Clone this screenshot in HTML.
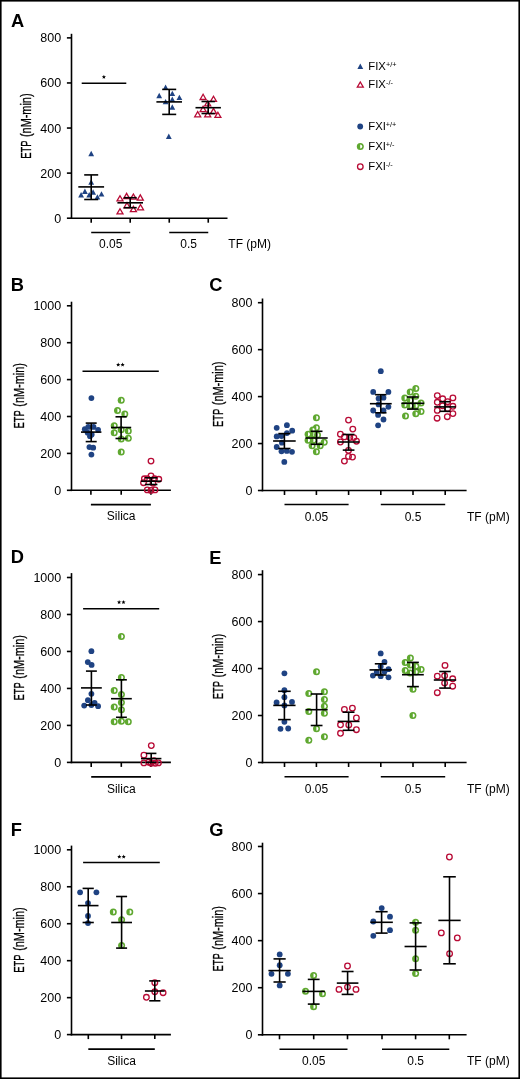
<!DOCTYPE html>
<html><head><meta charset="utf-8"><title>ETP figure</title>
<style>
html,body{margin:0;padding:0;background:#fff;}
body{width:520px;height:1079px;overflow:hidden;}
svg{display:block;font-family:"Liberation Sans", sans-serif;will-change:transform;}
</style></head>
<body>
<svg width="520" height="1079" viewBox="0 0 520 1079">
<rect x="0.8" y="0.8" width="518.4" height="1077.4" fill="#fff" stroke="#000" stroke-width="1.6"/>
<text x="11" y="26.7" font-size="18.3" text-anchor="start" font-weight="bold">A</text>
<line x1="71.5" y1="33.8" x2="71.5" y2="219" stroke="#000" stroke-width="1.6"/>
<line x1="66.9" y1="218.2" x2="71.5" y2="218.2" stroke="#000" stroke-width="1.6"/>
<text x="61.2" y="222.7" font-size="12.5" text-anchor="end" font-weight="normal">0</text>
<line x1="66.9" y1="173.12" x2="71.5" y2="173.12" stroke="#000" stroke-width="1.6"/>
<text x="61.2" y="177.62" font-size="12.5" text-anchor="end" font-weight="normal">200</text>
<line x1="66.9" y1="128.04" x2="71.5" y2="128.04" stroke="#000" stroke-width="1.6"/>
<text x="61.2" y="132.54" font-size="12.5" text-anchor="end" font-weight="normal">400</text>
<line x1="66.9" y1="82.96" x2="71.5" y2="82.96" stroke="#000" stroke-width="1.6"/>
<text x="61.2" y="87.46" font-size="12.5" text-anchor="end" font-weight="normal">600</text>
<line x1="66.9" y1="37.88" x2="71.5" y2="37.88" stroke="#000" stroke-width="1.6"/>
<text x="61.2" y="42.38" font-size="12.5" text-anchor="end" font-weight="normal">800</text>
<text x="0" y="0" font-size="15.0" textLength="18.27" lengthAdjust="spacingAndGlyphs" stroke="#000" stroke-width="0.3" transform="translate(31,158.87) rotate(-90)">ETP</text>
<text x="0" y="0" font-size="15.0" textLength="43.55" lengthAdjust="spacingAndGlyphs" stroke="#000" stroke-width="0.3" transform="translate(31,137.03) rotate(-90)">(nM-min)</text>
<line x1="70.7" y1="218.2" x2="227.5" y2="218.2" stroke="#000" stroke-width="1.6"/>
<line x1="91.2" y1="218.2" x2="91.2" y2="222.7" stroke="#000" stroke-width="1.6"/>
<line x1="130.2" y1="218.2" x2="130.2" y2="222.7" stroke="#000" stroke-width="1.6"/>
<line x1="169.25" y1="218.2" x2="169.25" y2="222.7" stroke="#000" stroke-width="1.6"/>
<line x1="208.25" y1="218.2" x2="208.25" y2="222.7" stroke="#000" stroke-width="1.6"/>
<line x1="91.2" y1="232.5" x2="130.2" y2="232.5" stroke="#000" stroke-width="1.6"/>
<line x1="169.25" y1="232.5" x2="208.25" y2="232.5" stroke="#000" stroke-width="1.6"/>
<text x="110.7" y="247.7" font-size="12" text-anchor="middle" font-weight="normal">0.05</text>
<text x="188.7" y="247.7" font-size="12" text-anchor="middle" font-weight="normal">0.5</text>
<text x="228.3" y="248" font-size="12" text-anchor="start" font-weight="normal">TF (pM)</text>
<line x1="81.7" y1="83.3" x2="126.3" y2="83.3" stroke="#000" stroke-width="1.6"/>
<polygon points="103.9,74.8 104.48,76.2 105.99,76.32 104.84,77.31 105.19,78.78 103.9,77.99 102.61,78.78 102.96,77.31 101.81,76.32 103.32,76.2" fill="#000"/>
<path d="M91.2 150.8L94.1 156.2L88.3 156.2Z" fill="#1f4383"/>
<path d="M91.2 179.3L94.1 184.7L88.3 184.7Z" fill="#1f4383"/>
<path d="M84.9 188.5L87.8 193.9L82 193.9Z" fill="#1f4383"/>
<path d="M81.1 192L84 197.4L78.2 197.4Z" fill="#1f4383"/>
<path d="M89.2 192L92.1 197.4L86.3 197.4Z" fill="#1f4383"/>
<path d="M93.1 189.3L96 194.7L90.2 194.7Z" fill="#1f4383"/>
<path d="M97.4 194.2L100.3 199.6L94.5 199.6Z" fill="#1f4383"/>
<path d="M101.5 191.2L104.4 196.6L98.6 196.6Z" fill="#1f4383"/>
<line x1="91.2" y1="174.9" x2="91.2" y2="199.5" stroke="#000" stroke-width="1.6"/>
<line x1="84.2" y1="174.9" x2="98.2" y2="174.9" stroke="#000" stroke-width="1.6"/>
<line x1="84.2" y1="199.5" x2="98.2" y2="199.5" stroke="#000" stroke-width="1.6"/>
<line x1="78.3" y1="186.9" x2="104.1" y2="186.9" stroke="#000" stroke-width="1.6"/>
<path d="M120 195.7L123 200.9L117 200.9Z" fill="none" stroke="#b80a35" stroke-width="1.3" stroke-linejoin="miter"/>
<path d="M126.6 193.4L129.6 198.6L123.6 198.6Z" fill="none" stroke="#b80a35" stroke-width="1.3" stroke-linejoin="miter"/>
<path d="M133.4 194L136.4 199.2L130.4 199.2Z" fill="none" stroke="#b80a35" stroke-width="1.3" stroke-linejoin="miter"/>
<path d="M140.3 194.9L143.3 200.1L137.3 200.1Z" fill="none" stroke="#b80a35" stroke-width="1.3" stroke-linejoin="miter"/>
<path d="M127 202.6L130 207.8L124 207.8Z" fill="none" stroke="#b80a35" stroke-width="1.3" stroke-linejoin="miter"/>
<path d="M133.4 206.4L136.4 211.6L130.4 211.6Z" fill="none" stroke="#b80a35" stroke-width="1.3" stroke-linejoin="miter"/>
<path d="M140.5 204.6L143.5 209.8L137.5 209.8Z" fill="none" stroke="#b80a35" stroke-width="1.3" stroke-linejoin="miter"/>
<path d="M120 208.7L123 213.9L117 213.9Z" fill="none" stroke="#b80a35" stroke-width="1.3" stroke-linejoin="miter"/>
<line x1="130.2" y1="197.7" x2="130.2" y2="207.7" stroke="#000" stroke-width="1.6"/>
<line x1="123.7" y1="197.7" x2="136.7" y2="197.7" stroke="#000" stroke-width="1.6"/>
<line x1="123.7" y1="207.7" x2="136.7" y2="207.7" stroke="#000" stroke-width="1.6"/>
<line x1="117.4" y1="202.8" x2="143" y2="202.8" stroke="#000" stroke-width="1.6"/>
<path d="M165.6 84.5L168.5 89.9L162.7 89.9Z" fill="#1f4383"/>
<path d="M159.2 92.8L162.1 98.2L156.3 98.2Z" fill="#1f4383"/>
<path d="M172.3 90.7L175.2 96.1L169.4 96.1Z" fill="#1f4383"/>
<path d="M179.4 94.7L182.3 100.1L176.5 100.1Z" fill="#1f4383"/>
<path d="M165.6 98.9L168.5 104.3L162.7 104.3Z" fill="#1f4383"/>
<path d="M172.3 96.6L175.2 102L169.4 102Z" fill="#1f4383"/>
<path d="M172.3 104.3L175.2 109.7L169.4 109.7Z" fill="#1f4383"/>
<path d="M168.8 133.5L171.7 138.9L165.9 138.9Z" fill="#1f4383"/>
<line x1="169.2" y1="89.4" x2="169.2" y2="114.4" stroke="#000" stroke-width="1.6"/>
<line x1="162.2" y1="89.4" x2="176.2" y2="89.4" stroke="#000" stroke-width="1.6"/>
<line x1="162.2" y1="114.4" x2="176.2" y2="114.4" stroke="#000" stroke-width="1.6"/>
<line x1="156.4" y1="101.9" x2="182" y2="101.9" stroke="#000" stroke-width="1.6"/>
<path d="M203.1 94.3L206.1 99.5L200.1 99.5Z" fill="none" stroke="#b80a35" stroke-width="1.3" stroke-linejoin="miter"/>
<path d="M213.5 96.2L216.5 101.4L210.5 101.4Z" fill="none" stroke="#b80a35" stroke-width="1.3" stroke-linejoin="miter"/>
<path d="M207.7 100.7L210.7 105.9L204.7 105.9Z" fill="none" stroke="#b80a35" stroke-width="1.3" stroke-linejoin="miter"/>
<path d="M203.1 106.4L206.1 111.6L200.1 111.6Z" fill="none" stroke="#b80a35" stroke-width="1.3" stroke-linejoin="miter"/>
<path d="M213.5 108.4L216.5 113.6L210.5 113.6Z" fill="none" stroke="#b80a35" stroke-width="1.3" stroke-linejoin="miter"/>
<path d="M197.7 111.6L200.7 116.8L194.7 116.8Z" fill="none" stroke="#b80a35" stroke-width="1.3" stroke-linejoin="miter"/>
<path d="M207.7 111.6L210.7 116.8L204.7 116.8Z" fill="none" stroke="#b80a35" stroke-width="1.3" stroke-linejoin="miter"/>
<path d="M217.9 112.2L220.9 117.4L214.9 117.4Z" fill="none" stroke="#b80a35" stroke-width="1.3" stroke-linejoin="miter"/>
<line x1="208.2" y1="101.5" x2="208.2" y2="113.5" stroke="#000" stroke-width="1.6"/>
<line x1="201.5" y1="101.5" x2="214.9" y2="101.5" stroke="#000" stroke-width="1.6"/>
<line x1="201.5" y1="113.5" x2="214.9" y2="113.5" stroke="#000" stroke-width="1.6"/>
<line x1="195.5" y1="107.7" x2="220.9" y2="107.7" stroke="#000" stroke-width="1.6"/>
<path d="M360.3 63.5L363.2 68.9L357.4 68.9Z" fill="#1f4383"/>
<text x="368.3" y="69.6" font-size="11.3" text-anchor="start" font-weight="normal">FIX</text>
<text x="386" y="66.6" font-size="7.3" text-anchor="start" font-weight="normal">+/+</text>
<path d="M360.3 82L363.3 87.2L357.3 87.2Z" fill="none" stroke="#b80a35" stroke-width="1.3" stroke-linejoin="miter"/>
<text x="368.3" y="88.2" font-size="11.3" text-anchor="start" font-weight="normal">FIX</text>
<text x="386" y="85.2" font-size="7.3" text-anchor="start" font-weight="normal">-/-</text>
<circle cx="360.2" cy="126.5" r="2.9" fill="#1f4383"/>
<text x="368.3" y="129.9" font-size="11.3" text-anchor="start" font-weight="normal">FXI</text>
<text x="385.8" y="126.9" font-size="7.3" text-anchor="start" font-weight="normal">+/+</text>
<circle cx="360.3" cy="146.6" r="3.5" fill="#5fa830"/>
<path d="M360.2 144.6A2.0 2.0 0 0 1 360.2 148.6Z" fill="#fff"/>
<text x="368.3" y="149.8" font-size="11.3" text-anchor="start" font-weight="normal">FXI</text>
<text x="385.8" y="146.8" font-size="7.3" text-anchor="start" font-weight="normal">+/-</text>
<circle cx="360.3" cy="166.7" r="2.8" fill="none" stroke="#b80a35" stroke-width="1.3"/>
<text x="368.3" y="169.8" font-size="11.3" text-anchor="start" font-weight="normal">FXI</text>
<text x="385.8" y="166.8" font-size="7.3" text-anchor="start" font-weight="normal">-/-</text>
<text x="0" y="0" font-size="15.0" textLength="18.27" lengthAdjust="spacingAndGlyphs" stroke="#000" stroke-width="0.3" transform="translate(23.9,428.57) rotate(-90)">ETP</text>
<text x="0" y="0" font-size="15.0" textLength="43.55" lengthAdjust="spacingAndGlyphs" stroke="#000" stroke-width="0.3" transform="translate(23.9,406.73) rotate(-90)">(nM-min)</text>
<text x="10.7" y="291.1" font-size="18.3" text-anchor="start" font-weight="bold">B</text>
<line x1="71.5" y1="301.7" x2="71.5" y2="491.1" stroke="#000" stroke-width="1.6"/>
<line x1="66.9" y1="490.3" x2="71.5" y2="490.3" stroke="#000" stroke-width="1.6"/>
<text x="61.2" y="494.8" font-size="12.5" text-anchor="end" font-weight="normal">0</text>
<line x1="66.9" y1="453.4" x2="71.5" y2="453.4" stroke="#000" stroke-width="1.6"/>
<text x="61.2" y="457.9" font-size="12.5" text-anchor="end" font-weight="normal">200</text>
<line x1="66.9" y1="416.5" x2="71.5" y2="416.5" stroke="#000" stroke-width="1.6"/>
<text x="61.2" y="421" font-size="12.5" text-anchor="end" font-weight="normal">400</text>
<line x1="66.9" y1="379.6" x2="71.5" y2="379.6" stroke="#000" stroke-width="1.6"/>
<text x="61.2" y="384.1" font-size="12.5" text-anchor="end" font-weight="normal">600</text>
<line x1="66.9" y1="342.7" x2="71.5" y2="342.7" stroke="#000" stroke-width="1.6"/>
<text x="61.2" y="347.2" font-size="12.5" text-anchor="end" font-weight="normal">800</text>
<line x1="66.9" y1="305.8" x2="71.5" y2="305.8" stroke="#000" stroke-width="1.6"/>
<text x="61.2" y="310.3" font-size="12.5" text-anchor="end" font-weight="normal">1000</text>
<line x1="70.7" y1="490.3" x2="170.9" y2="490.3" stroke="#000" stroke-width="1.6"/>
<line x1="90.9" y1="490.3" x2="90.9" y2="494.8" stroke="#000" stroke-width="1.6"/>
<line x1="121.2" y1="490.3" x2="121.2" y2="494.8" stroke="#000" stroke-width="1.6"/>
<line x1="150.9" y1="490.3" x2="150.9" y2="494.8" stroke="#000" stroke-width="1.6"/>
<line x1="90.9" y1="504.6" x2="150.9" y2="504.6" stroke="#000" stroke-width="1.6"/>
<text x="121.2" y="520.3" font-size="12" text-anchor="middle" font-weight="normal">Silica</text>
<line x1="82.5" y1="371.2" x2="158.8" y2="371.2" stroke="#000" stroke-width="1.6"/>
<polygon points="118.2,362.6 118.78,364 120.29,364.12 119.14,365.11 119.49,366.58 118.2,365.79 116.91,366.58 117.26,365.11 116.11,364.12 117.62,364" fill="#000"/>
<polygon points="122.6,362.6 123.18,364 124.69,364.12 123.54,365.11 123.89,366.58 122.6,365.79 121.31,366.58 121.66,365.11 120.51,364.12 122.02,364" fill="#000"/>
<circle cx="91.4" cy="398.1" r="2.9" fill="#1f4383"/>
<circle cx="84.8" cy="429.2" r="2.9" fill="#1f4383"/>
<circle cx="88.3" cy="426.9" r="2.9" fill="#1f4383"/>
<circle cx="93.5" cy="426.9" r="2.9" fill="#1f4383"/>
<circle cx="98.1" cy="429.8" r="2.9" fill="#1f4383"/>
<circle cx="87.7" cy="432.7" r="2.9" fill="#1f4383"/>
<circle cx="91.7" cy="434.4" r="2.9" fill="#1f4383"/>
<circle cx="90" cy="436.2" r="2.9" fill="#1f4383"/>
<circle cx="89.4" cy="447.1" r="2.9" fill="#1f4383"/>
<circle cx="93.2" cy="447.7" r="2.9" fill="#1f4383"/>
<circle cx="91.4" cy="454.6" r="2.9" fill="#1f4383"/>
<circle cx="121.2" cy="400.2" r="3.5" fill="#5fa830"/>
<path d="M121.1 398.2A2.0 2.0 0 0 1 121.1 402.2Z" fill="#fff"/>
<circle cx="117.5" cy="410.5" r="3.5" fill="#5fa830"/>
<path d="M117.4 408.5A2.0 2.0 0 0 1 117.4 412.5Z" fill="#fff"/>
<circle cx="124.8" cy="414" r="3.5" fill="#5fa830"/>
<path d="M124.7 412A2.0 2.0 0 0 1 124.7 416Z" fill="#fff"/>
<circle cx="114.2" cy="425.8" r="3.5" fill="#5fa830"/>
<path d="M114.1 423.8A2.0 2.0 0 0 1 114.1 427.8Z" fill="#fff"/>
<circle cx="114.2" cy="432.7" r="3.5" fill="#5fa830"/>
<path d="M114.1 430.7A2.0 2.0 0 0 1 114.1 434.7Z" fill="#fff"/>
<circle cx="121.2" cy="429.8" r="3.5" fill="#5fa830"/>
<path d="M121.1 427.8A2.0 2.0 0 0 1 121.1 431.8Z" fill="#fff"/>
<circle cx="128.3" cy="431" r="3.5" fill="#5fa830"/>
<path d="M128.2 429A2.0 2.0 0 0 1 128.2 433Z" fill="#fff"/>
<circle cx="121.2" cy="439" r="3.5" fill="#5fa830"/>
<path d="M121.1 437A2.0 2.0 0 0 1 121.1 441Z" fill="#fff"/>
<circle cx="128.3" cy="438.2" r="3.5" fill="#5fa830"/>
<path d="M128.2 436.2A2.0 2.0 0 0 1 128.2 440.2Z" fill="#fff"/>
<circle cx="121.2" cy="452.1" r="3.5" fill="#5fa830"/>
<path d="M121.1 450.1A2.0 2.0 0 0 1 121.1 454.1Z" fill="#fff"/>
<circle cx="151" cy="461.1" r="2.8" fill="none" stroke="#b80a35" stroke-width="1.3"/>
<circle cx="151" cy="476" r="2.8" fill="none" stroke="#b80a35" stroke-width="1.3"/>
<circle cx="144.4" cy="478.8" r="2.8" fill="none" stroke="#b80a35" stroke-width="1.3"/>
<circle cx="158.8" cy="479.3" r="2.8" fill="none" stroke="#b80a35" stroke-width="1.3"/>
<circle cx="147.3" cy="478.8" r="2.8" fill="none" stroke="#b80a35" stroke-width="1.3"/>
<circle cx="154.5" cy="478.8" r="2.8" fill="none" stroke="#b80a35" stroke-width="1.3"/>
<circle cx="143.5" cy="482.7" r="2.8" fill="none" stroke="#b80a35" stroke-width="1.3"/>
<circle cx="153" cy="483.2" r="2.8" fill="none" stroke="#b80a35" stroke-width="1.3"/>
<circle cx="147.3" cy="489.9" r="2.8" fill="none" stroke="#b80a35" stroke-width="1.3"/>
<circle cx="155" cy="489.9" r="2.8" fill="none" stroke="#b80a35" stroke-width="1.3"/>
<circle cx="151" cy="490.4" r="2.8" fill="none" stroke="#b80a35" stroke-width="1.3"/>
<line x1="91.2" y1="423.1" x2="91.2" y2="441.6" stroke="#000" stroke-width="1.6"/>
<line x1="85.7" y1="423.1" x2="96.7" y2="423.1" stroke="#000" stroke-width="1.6"/>
<line x1="85.7" y1="441.6" x2="96.7" y2="441.6" stroke="#000" stroke-width="1.6"/>
<line x1="81" y1="432.1" x2="101.4" y2="432.1" stroke="#000" stroke-width="1.6"/>
<line x1="121.1" y1="416.8" x2="121.1" y2="438.5" stroke="#000" stroke-width="1.6"/>
<line x1="115.5" y1="416.8" x2="126.7" y2="416.8" stroke="#000" stroke-width="1.6"/>
<line x1="115.5" y1="438.5" x2="126.7" y2="438.5" stroke="#000" stroke-width="1.6"/>
<line x1="111" y1="427.5" x2="131.2" y2="427.5" stroke="#000" stroke-width="1.6"/>
<line x1="151.2" y1="477.8" x2="151.2" y2="484.5" stroke="#000" stroke-width="1.6"/>
<line x1="145" y1="477.8" x2="157.4" y2="477.8" stroke="#000" stroke-width="1.6"/>
<line x1="145" y1="484.5" x2="157.4" y2="484.5" stroke="#000" stroke-width="1.6"/>
<line x1="141" y1="481.2" x2="161.4" y2="481.2" stroke="#000" stroke-width="1.6"/>
<text x="209.3" y="291.2" font-size="18.3" text-anchor="start" font-weight="bold">C</text>
<line x1="262.5" y1="298.5" x2="262.5" y2="491.3" stroke="#000" stroke-width="1.6"/>
<line x1="257.9" y1="490.5" x2="262.5" y2="490.5" stroke="#000" stroke-width="1.6"/>
<text x="252.4" y="495" font-size="12.5" text-anchor="end" font-weight="normal">0</text>
<line x1="257.9" y1="443.55" x2="262.5" y2="443.55" stroke="#000" stroke-width="1.6"/>
<text x="252.4" y="448.05" font-size="12.5" text-anchor="end" font-weight="normal">200</text>
<line x1="257.9" y1="396.6" x2="262.5" y2="396.6" stroke="#000" stroke-width="1.6"/>
<text x="252.4" y="401.1" font-size="12.5" text-anchor="end" font-weight="normal">400</text>
<line x1="257.9" y1="349.65" x2="262.5" y2="349.65" stroke="#000" stroke-width="1.6"/>
<text x="252.4" y="354.15" font-size="12.5" text-anchor="end" font-weight="normal">600</text>
<line x1="257.9" y1="302.7" x2="262.5" y2="302.7" stroke="#000" stroke-width="1.6"/>
<text x="252.4" y="307.2" font-size="12.5" text-anchor="end" font-weight="normal">800</text>
<text x="0" y="0" font-size="15.0" textLength="18.27" lengthAdjust="spacingAndGlyphs" stroke="#000" stroke-width="0.3" transform="translate(222.9,427.07) rotate(-90)">ETP</text>
<text x="0" y="0" font-size="15.0" textLength="43.55" lengthAdjust="spacingAndGlyphs" stroke="#000" stroke-width="0.3" transform="translate(222.9,405.23) rotate(-90)">(nM-min)</text>
<line x1="261.7" y1="490.5" x2="466.6" y2="490.5" stroke="#000" stroke-width="1.6"/>
<line x1="284.5" y1="490.5" x2="284.5" y2="495" stroke="#000" stroke-width="1.6"/>
<line x1="316.4" y1="490.5" x2="316.4" y2="495" stroke="#000" stroke-width="1.6"/>
<line x1="348.6" y1="490.5" x2="348.6" y2="495" stroke="#000" stroke-width="1.6"/>
<line x1="380.8" y1="490.5" x2="380.8" y2="495" stroke="#000" stroke-width="1.6"/>
<line x1="413" y1="490.5" x2="413" y2="495" stroke="#000" stroke-width="1.6"/>
<line x1="445.2" y1="490.5" x2="445.2" y2="495" stroke="#000" stroke-width="1.6"/>
<line x1="284.5" y1="504.5" x2="348.6" y2="504.5" stroke="#000" stroke-width="1.6"/>
<line x1="380.8" y1="504.5" x2="445.2" y2="504.5" stroke="#000" stroke-width="1.6"/>
<text x="316.4" y="520.5" font-size="12" text-anchor="middle" font-weight="normal">0.05</text>
<text x="413" y="520.5" font-size="12" text-anchor="middle" font-weight="normal">0.5</text>
<text x="467" y="520.5" font-size="12" text-anchor="start" font-weight="normal">TF (pM)</text>
<circle cx="276.7" cy="427.8" r="2.9" fill="#1f4383"/>
<circle cx="286.9" cy="425.2" r="2.9" fill="#1f4383"/>
<circle cx="292.2" cy="430.7" r="2.9" fill="#1f4383"/>
<circle cx="286.9" cy="433.1" r="2.9" fill="#1f4383"/>
<circle cx="276.7" cy="436.4" r="2.9" fill="#1f4383"/>
<circle cx="281.5" cy="436" r="2.9" fill="#1f4383"/>
<circle cx="281.9" cy="442.7" r="2.9" fill="#1f4383"/>
<circle cx="276.7" cy="447" r="2.9" fill="#1f4383"/>
<circle cx="281.5" cy="451.3" r="2.9" fill="#1f4383"/>
<circle cx="286.8" cy="450.9" r="2.9" fill="#1f4383"/>
<circle cx="292" cy="451.8" r="2.9" fill="#1f4383"/>
<circle cx="284.3" cy="461.9" r="2.9" fill="#1f4383"/>
<line x1="284.4" y1="433.6" x2="284.4" y2="448.5" stroke="#000" stroke-width="1.6"/>
<line x1="278.3" y1="433.6" x2="290.5" y2="433.6" stroke="#000" stroke-width="1.6"/>
<line x1="278.3" y1="448.5" x2="290.5" y2="448.5" stroke="#000" stroke-width="1.6"/>
<line x1="273.1" y1="441" x2="295.7" y2="441" stroke="#000" stroke-width="1.6"/>
<circle cx="316.4" cy="417.8" r="3.5" fill="#5fa830"/>
<path d="M316.3 415.8A2.0 2.0 0 0 1 316.3 419.8Z" fill="#fff"/>
<circle cx="316.4" cy="427.8" r="3.5" fill="#5fa830"/>
<path d="M316.3 425.8A2.0 2.0 0 0 1 316.3 429.8Z" fill="#fff"/>
<circle cx="312.8" cy="429.9" r="3.5" fill="#5fa830"/>
<path d="M312.7 427.9A2.0 2.0 0 0 1 312.7 431.9Z" fill="#fff"/>
<circle cx="308.1" cy="434.2" r="3.5" fill="#5fa830"/>
<path d="M308 432.2A2.0 2.0 0 0 1 308 436.2Z" fill="#fff"/>
<circle cx="313.5" cy="434.2" r="3.5" fill="#5fa830"/>
<path d="M313.4 432.2A2.0 2.0 0 0 1 313.4 436.2Z" fill="#fff"/>
<circle cx="317.5" cy="434.9" r="3.5" fill="#5fa830"/>
<path d="M317.4 432.9A2.0 2.0 0 0 1 317.4 436.9Z" fill="#fff"/>
<circle cx="308.1" cy="440.3" r="3.5" fill="#5fa830"/>
<path d="M308 438.3A2.0 2.0 0 0 1 308 442.3Z" fill="#fff"/>
<circle cx="313.5" cy="440.3" r="3.5" fill="#5fa830"/>
<path d="M313.4 438.3A2.0 2.0 0 0 1 313.4 442.3Z" fill="#fff"/>
<circle cx="324.2" cy="442.3" r="3.5" fill="#5fa830"/>
<path d="M324.1 440.3A2.0 2.0 0 0 1 324.1 444.3Z" fill="#fff"/>
<circle cx="312.1" cy="445.7" r="3.5" fill="#5fa830"/>
<path d="M312 443.7A2.0 2.0 0 0 1 312 447.7Z" fill="#fff"/>
<circle cx="320.2" cy="445.7" r="3.5" fill="#5fa830"/>
<path d="M320.1 443.7A2.0 2.0 0 0 1 320.1 447.7Z" fill="#fff"/>
<circle cx="316.4" cy="451.7" r="3.5" fill="#5fa830"/>
<path d="M316.3 449.7A2.0 2.0 0 0 1 316.3 453.7Z" fill="#fff"/>
<line x1="316.6" y1="431.3" x2="316.6" y2="444.3" stroke="#000" stroke-width="1.6"/>
<line x1="310.7" y1="431.3" x2="322.5" y2="431.3" stroke="#000" stroke-width="1.6"/>
<line x1="310.7" y1="444.3" x2="322.5" y2="444.3" stroke="#000" stroke-width="1.6"/>
<line x1="305.5" y1="438" x2="327.7" y2="438" stroke="#000" stroke-width="1.6"/>
<circle cx="348.5" cy="420.1" r="2.8" fill="none" stroke="#b80a35" stroke-width="1.3"/>
<circle cx="352.8" cy="429.1" r="2.8" fill="none" stroke="#b80a35" stroke-width="1.3"/>
<circle cx="340.4" cy="434.2" r="2.8" fill="none" stroke="#b80a35" stroke-width="1.3"/>
<circle cx="344.4" cy="436.9" r="2.8" fill="none" stroke="#b80a35" stroke-width="1.3"/>
<circle cx="349.8" cy="437.6" r="2.8" fill="none" stroke="#b80a35" stroke-width="1.3"/>
<circle cx="353.8" cy="437.6" r="2.8" fill="none" stroke="#b80a35" stroke-width="1.3"/>
<circle cx="340.4" cy="442" r="2.8" fill="none" stroke="#b80a35" stroke-width="1.3"/>
<circle cx="356.5" cy="441.2" r="2.8" fill="none" stroke="#b80a35" stroke-width="1.3"/>
<circle cx="348.5" cy="450.4" r="2.8" fill="none" stroke="#b80a35" stroke-width="1.3"/>
<circle cx="348.5" cy="456.4" r="2.8" fill="none" stroke="#b80a35" stroke-width="1.3"/>
<circle cx="352.5" cy="457.1" r="2.8" fill="none" stroke="#b80a35" stroke-width="1.3"/>
<circle cx="344.4" cy="461.1" r="2.8" fill="none" stroke="#b80a35" stroke-width="1.3"/>
<line x1="348.6" y1="434.5" x2="348.6" y2="450.1" stroke="#000" stroke-width="1.6"/>
<line x1="342.75" y1="434.5" x2="354.45" y2="434.5" stroke="#000" stroke-width="1.6"/>
<line x1="342.75" y1="450.1" x2="354.45" y2="450.1" stroke="#000" stroke-width="1.6"/>
<line x1="337.8" y1="442" x2="359.4" y2="442" stroke="#000" stroke-width="1.6"/>
<circle cx="380.8" cy="371.2" r="2.9" fill="#1f4383"/>
<circle cx="373.2" cy="391.9" r="2.9" fill="#1f4383"/>
<circle cx="388.4" cy="391.9" r="2.9" fill="#1f4383"/>
<circle cx="378.6" cy="398.4" r="2.9" fill="#1f4383"/>
<circle cx="383.5" cy="397.7" r="2.9" fill="#1f4383"/>
<circle cx="378.6" cy="404.4" r="2.9" fill="#1f4383"/>
<circle cx="388.4" cy="406.8" r="2.9" fill="#1f4383"/>
<circle cx="373.2" cy="410.5" r="2.9" fill="#1f4383"/>
<circle cx="383.5" cy="410.5" r="2.9" fill="#1f4383"/>
<circle cx="378.1" cy="414.9" r="2.9" fill="#1f4383"/>
<circle cx="383.5" cy="419.5" r="2.9" fill="#1f4383"/>
<circle cx="378.1" cy="425.3" r="2.9" fill="#1f4383"/>
<line x1="380.8" y1="394.7" x2="380.8" y2="412.8" stroke="#000" stroke-width="1.6"/>
<line x1="375.1" y1="394.7" x2="386.5" y2="394.7" stroke="#000" stroke-width="1.6"/>
<line x1="375.1" y1="412.8" x2="386.5" y2="412.8" stroke="#000" stroke-width="1.6"/>
<line x1="369.9" y1="403.7" x2="391.7" y2="403.7" stroke="#000" stroke-width="1.6"/>
<circle cx="415.8" cy="388.5" r="3.5" fill="#5fa830"/>
<path d="M415.7 386.5A2.0 2.0 0 0 1 415.7 390.5Z" fill="#fff"/>
<circle cx="410.2" cy="392" r="3.5" fill="#5fa830"/>
<path d="M410.1 390A2.0 2.0 0 0 1 410.1 394Z" fill="#fff"/>
<circle cx="404.8" cy="398" r="3.5" fill="#5fa830"/>
<path d="M404.7 396A2.0 2.0 0 0 1 404.7 400Z" fill="#fff"/>
<circle cx="415.8" cy="396.3" r="3.5" fill="#5fa830"/>
<path d="M415.7 394.3A2.0 2.0 0 0 1 415.7 398.3Z" fill="#fff"/>
<circle cx="410.2" cy="400.4" r="3.5" fill="#5fa830"/>
<path d="M410.1 398.4A2.0 2.0 0 0 1 410.1 402.4Z" fill="#fff"/>
<circle cx="404.8" cy="405.1" r="3.5" fill="#5fa830"/>
<path d="M404.7 403.1A2.0 2.0 0 0 1 404.7 407.1Z" fill="#fff"/>
<circle cx="410.2" cy="405.8" r="3.5" fill="#5fa830"/>
<path d="M410.1 403.8A2.0 2.0 0 0 1 410.1 407.8Z" fill="#fff"/>
<circle cx="415.8" cy="405.8" r="3.5" fill="#5fa830"/>
<path d="M415.7 403.8A2.0 2.0 0 0 1 415.7 407.8Z" fill="#fff"/>
<circle cx="421" cy="403.1" r="3.5" fill="#5fa830"/>
<path d="M420.9 401.1A2.0 2.0 0 0 1 420.9 405.1Z" fill="#fff"/>
<circle cx="421" cy="411.4" r="3.5" fill="#5fa830"/>
<path d="M420.9 409.4A2.0 2.0 0 0 1 420.9 413.4Z" fill="#fff"/>
<circle cx="415.8" cy="413.8" r="3.5" fill="#5fa830"/>
<path d="M415.7 411.8A2.0 2.0 0 0 1 415.7 415.8Z" fill="#fff"/>
<circle cx="405.5" cy="415.9" r="3.5" fill="#5fa830"/>
<path d="M405.4 413.9A2.0 2.0 0 0 1 405.4 417.9Z" fill="#fff"/>
<line x1="412.8" y1="397" x2="412.8" y2="409.1" stroke="#000" stroke-width="1.6"/>
<line x1="407.05" y1="397" x2="418.55" y2="397" stroke="#000" stroke-width="1.6"/>
<line x1="407.05" y1="409.1" x2="418.55" y2="409.1" stroke="#000" stroke-width="1.6"/>
<line x1="401.35" y1="403.3" x2="424.25" y2="403.3" stroke="#000" stroke-width="1.6"/>
<circle cx="437.3" cy="395.6" r="2.8" fill="none" stroke="#b80a35" stroke-width="1.3"/>
<circle cx="442.7" cy="398.8" r="2.8" fill="none" stroke="#b80a35" stroke-width="1.3"/>
<circle cx="452.9" cy="397.9" r="2.8" fill="none" stroke="#b80a35" stroke-width="1.3"/>
<circle cx="437.3" cy="402.3" r="2.8" fill="none" stroke="#b80a35" stroke-width="1.3"/>
<circle cx="447.7" cy="401.7" r="2.8" fill="none" stroke="#b80a35" stroke-width="1.3"/>
<circle cx="442.5" cy="405.8" r="2.8" fill="none" stroke="#b80a35" stroke-width="1.3"/>
<circle cx="452.9" cy="406.3" r="2.8" fill="none" stroke="#b80a35" stroke-width="1.3"/>
<circle cx="447.7" cy="408.7" r="2.8" fill="none" stroke="#b80a35" stroke-width="1.3"/>
<circle cx="437.3" cy="410.4" r="2.8" fill="none" stroke="#b80a35" stroke-width="1.3"/>
<circle cx="452.9" cy="413.6" r="2.8" fill="none" stroke="#b80a35" stroke-width="1.3"/>
<circle cx="447.3" cy="416.7" r="2.8" fill="none" stroke="#b80a35" stroke-width="1.3"/>
<circle cx="437.1" cy="418.2" r="2.8" fill="none" stroke="#b80a35" stroke-width="1.3"/>
<line x1="445" y1="401.7" x2="445" y2="411.3" stroke="#000" stroke-width="1.6"/>
<line x1="439.5" y1="401.7" x2="450.5" y2="401.7" stroke="#000" stroke-width="1.6"/>
<line x1="439.5" y1="411.3" x2="450.5" y2="411.3" stroke="#000" stroke-width="1.6"/>
<line x1="434.15" y1="406.9" x2="455.85" y2="406.9" stroke="#000" stroke-width="1.6"/>
<text x="0" y="0" font-size="15.0" textLength="18.27" lengthAdjust="spacingAndGlyphs" stroke="#000" stroke-width="0.3" transform="translate(23.9,700.57) rotate(-90)">ETP</text>
<text x="0" y="0" font-size="15.0" textLength="43.55" lengthAdjust="spacingAndGlyphs" stroke="#000" stroke-width="0.3" transform="translate(23.9,678.73) rotate(-90)">(nM-min)</text>
<text x="10.7" y="563.1" font-size="18.3" text-anchor="start" font-weight="bold">D</text>
<line x1="71.5" y1="573.1" x2="71.5" y2="763.2" stroke="#000" stroke-width="1.6"/>
<line x1="66.9" y1="762.4" x2="71.5" y2="762.4" stroke="#000" stroke-width="1.6"/>
<text x="61.2" y="766.9" font-size="12.5" text-anchor="end" font-weight="normal">0</text>
<line x1="66.9" y1="725.42" x2="71.5" y2="725.42" stroke="#000" stroke-width="1.6"/>
<text x="61.2" y="729.92" font-size="12.5" text-anchor="end" font-weight="normal">200</text>
<line x1="66.9" y1="688.44" x2="71.5" y2="688.44" stroke="#000" stroke-width="1.6"/>
<text x="61.2" y="692.94" font-size="12.5" text-anchor="end" font-weight="normal">400</text>
<line x1="66.9" y1="651.46" x2="71.5" y2="651.46" stroke="#000" stroke-width="1.6"/>
<text x="61.2" y="655.96" font-size="12.5" text-anchor="end" font-weight="normal">600</text>
<line x1="66.9" y1="614.48" x2="71.5" y2="614.48" stroke="#000" stroke-width="1.6"/>
<text x="61.2" y="618.98" font-size="12.5" text-anchor="end" font-weight="normal">800</text>
<line x1="66.9" y1="577.5" x2="71.5" y2="577.5" stroke="#000" stroke-width="1.6"/>
<text x="61.2" y="582" font-size="12.5" text-anchor="end" font-weight="normal">1000</text>
<line x1="70.7" y1="762.4" x2="170.9" y2="762.4" stroke="#000" stroke-width="1.6"/>
<line x1="91.2" y1="762.4" x2="91.2" y2="766.9" stroke="#000" stroke-width="1.6"/>
<line x1="121.3" y1="762.4" x2="121.3" y2="766.9" stroke="#000" stroke-width="1.6"/>
<line x1="150.9" y1="762.4" x2="150.9" y2="766.9" stroke="#000" stroke-width="1.6"/>
<line x1="91.2" y1="776.9" x2="150.9" y2="776.9" stroke="#000" stroke-width="1.6"/>
<text x="121.3" y="792.5" font-size="12" text-anchor="middle" font-weight="normal">Silica</text>
<line x1="83.1" y1="608.8" x2="159.2" y2="608.8" stroke="#000" stroke-width="1.6"/>
<polygon points="119.1,600.1 119.68,601.5 121.19,601.62 120.04,602.61 120.39,604.08 119.1,603.29 117.81,604.08 118.16,602.61 117.01,601.62 118.52,601.5" fill="#000"/>
<polygon points="123.5,600.1 124.08,601.5 125.59,601.62 124.44,602.61 124.79,604.08 123.5,603.29 122.21,604.08 122.56,602.61 121.41,601.62 122.92,601.5" fill="#000"/>
<circle cx="91.4" cy="651.2" r="2.9" fill="#1f4383"/>
<circle cx="87.8" cy="662.1" r="2.9" fill="#1f4383"/>
<circle cx="91.6" cy="664.9" r="2.9" fill="#1f4383"/>
<circle cx="91.4" cy="693.8" r="2.9" fill="#1f4383"/>
<circle cx="87.9" cy="700.2" r="2.9" fill="#1f4383"/>
<circle cx="94.6" cy="702.9" r="2.9" fill="#1f4383"/>
<circle cx="84.2" cy="705.6" r="2.9" fill="#1f4383"/>
<circle cx="91.4" cy="705" r="2.9" fill="#1f4383"/>
<circle cx="98.1" cy="706.2" r="2.9" fill="#1f4383"/>
<circle cx="121.4" cy="636.4" r="3.5" fill="#5fa830"/>
<path d="M121.3 634.4A2.0 2.0 0 0 1 121.3 638.4Z" fill="#fff"/>
<circle cx="121.4" cy="677.5" r="3.5" fill="#5fa830"/>
<path d="M121.3 675.5A2.0 2.0 0 0 1 121.3 679.5Z" fill="#fff"/>
<circle cx="114.2" cy="690.6" r="3.5" fill="#5fa830"/>
<path d="M114.1 688.6A2.0 2.0 0 0 1 114.1 692.6Z" fill="#fff"/>
<circle cx="121.4" cy="694.6" r="3.5" fill="#5fa830"/>
<path d="M121.3 692.6A2.0 2.0 0 0 1 121.3 696.6Z" fill="#fff"/>
<circle cx="121.4" cy="702.5" r="3.5" fill="#5fa830"/>
<path d="M121.3 700.5A2.0 2.0 0 0 1 121.3 704.5Z" fill="#fff"/>
<circle cx="114.2" cy="707.1" r="3.5" fill="#5fa830"/>
<path d="M114.1 705.1A2.0 2.0 0 0 1 114.1 709.1Z" fill="#fff"/>
<circle cx="121.4" cy="709.8" r="3.5" fill="#5fa830"/>
<path d="M121.3 707.8A2.0 2.0 0 0 1 121.3 711.8Z" fill="#fff"/>
<circle cx="114.2" cy="721.7" r="3.5" fill="#5fa830"/>
<path d="M114.1 719.7A2.0 2.0 0 0 1 114.1 723.7Z" fill="#fff"/>
<circle cx="121.4" cy="721.2" r="3.5" fill="#5fa830"/>
<path d="M121.3 719.2A2.0 2.0 0 0 1 121.3 723.2Z" fill="#fff"/>
<circle cx="128.3" cy="721.7" r="3.5" fill="#5fa830"/>
<path d="M128.2 719.7A2.0 2.0 0 0 1 128.2 723.7Z" fill="#fff"/>
<circle cx="151.3" cy="745.6" r="2.8" fill="none" stroke="#b80a35" stroke-width="1.3"/>
<circle cx="143.9" cy="755.2" r="2.8" fill="none" stroke="#b80a35" stroke-width="1.3"/>
<circle cx="143.9" cy="762.9" r="2.8" fill="none" stroke="#b80a35" stroke-width="1.3"/>
<circle cx="148.8" cy="762.2" r="2.8" fill="none" stroke="#b80a35" stroke-width="1.3"/>
<circle cx="154" cy="760.8" r="2.8" fill="none" stroke="#b80a35" stroke-width="1.3"/>
<circle cx="155.2" cy="763.2" r="2.8" fill="none" stroke="#b80a35" stroke-width="1.3"/>
<circle cx="158.4" cy="762.9" r="2.8" fill="none" stroke="#b80a35" stroke-width="1.3"/>
<circle cx="151.2" cy="763.2" r="2.8" fill="none" stroke="#b80a35" stroke-width="1.3"/>
<line x1="91.4" y1="671.1" x2="91.4" y2="705" stroke="#000" stroke-width="1.6"/>
<line x1="85.95" y1="671.1" x2="96.85" y2="671.1" stroke="#000" stroke-width="1.6"/>
<line x1="85.95" y1="705" x2="96.85" y2="705" stroke="#000" stroke-width="1.6"/>
<line x1="81" y1="687.9" x2="101.8" y2="687.9" stroke="#000" stroke-width="1.6"/>
<line x1="121.4" y1="679.8" x2="121.4" y2="717.3" stroke="#000" stroke-width="1.6"/>
<line x1="115.95" y1="679.8" x2="126.85" y2="679.8" stroke="#000" stroke-width="1.6"/>
<line x1="115.95" y1="717.3" x2="126.85" y2="717.3" stroke="#000" stroke-width="1.6"/>
<line x1="111" y1="698.7" x2="131.8" y2="698.7" stroke="#000" stroke-width="1.6"/>
<line x1="151.2" y1="753.4" x2="151.2" y2="762.4" stroke="#000" stroke-width="1.6"/>
<line x1="146" y1="753.4" x2="156.4" y2="753.4" stroke="#000" stroke-width="1.6"/>
<line x1="146" y1="762.4" x2="156.4" y2="762.4" stroke="#000" stroke-width="1.6"/>
<line x1="141" y1="758.6" x2="161.4" y2="758.6" stroke="#000" stroke-width="1.6"/>
<text x="209.3" y="563.5" font-size="18.3" text-anchor="start" font-weight="bold">E</text>
<line x1="262.5" y1="570.2" x2="262.5" y2="763.3" stroke="#000" stroke-width="1.6"/>
<line x1="257.9" y1="762.5" x2="262.5" y2="762.5" stroke="#000" stroke-width="1.6"/>
<text x="252.4" y="767" font-size="12.5" text-anchor="end" font-weight="normal">0</text>
<line x1="257.9" y1="715.52" x2="262.5" y2="715.52" stroke="#000" stroke-width="1.6"/>
<text x="252.4" y="720.02" font-size="12.5" text-anchor="end" font-weight="normal">200</text>
<line x1="257.9" y1="668.54" x2="262.5" y2="668.54" stroke="#000" stroke-width="1.6"/>
<text x="252.4" y="673.04" font-size="12.5" text-anchor="end" font-weight="normal">400</text>
<line x1="257.9" y1="621.56" x2="262.5" y2="621.56" stroke="#000" stroke-width="1.6"/>
<text x="252.4" y="626.06" font-size="12.5" text-anchor="end" font-weight="normal">600</text>
<line x1="257.9" y1="574.58" x2="262.5" y2="574.58" stroke="#000" stroke-width="1.6"/>
<text x="252.4" y="579.08" font-size="12.5" text-anchor="end" font-weight="normal">800</text>
<text x="0" y="0" font-size="15.0" textLength="18.27" lengthAdjust="spacingAndGlyphs" stroke="#000" stroke-width="0.3" transform="translate(222.9,699.27) rotate(-90)">ETP</text>
<text x="0" y="0" font-size="15.0" textLength="43.55" lengthAdjust="spacingAndGlyphs" stroke="#000" stroke-width="0.3" transform="translate(222.9,677.43) rotate(-90)">(nM-min)</text>
<line x1="261.7" y1="762.5" x2="466.6" y2="762.5" stroke="#000" stroke-width="1.6"/>
<line x1="284.5" y1="762.5" x2="284.5" y2="767" stroke="#000" stroke-width="1.6"/>
<line x1="316.4" y1="762.5" x2="316.4" y2="767" stroke="#000" stroke-width="1.6"/>
<line x1="348.6" y1="762.5" x2="348.6" y2="767" stroke="#000" stroke-width="1.6"/>
<line x1="380.8" y1="762.5" x2="380.8" y2="767" stroke="#000" stroke-width="1.6"/>
<line x1="413" y1="762.5" x2="413" y2="767" stroke="#000" stroke-width="1.6"/>
<line x1="445.2" y1="762.5" x2="445.2" y2="767" stroke="#000" stroke-width="1.6"/>
<line x1="284.5" y1="776.75" x2="348.6" y2="776.75" stroke="#000" stroke-width="1.6"/>
<line x1="380.8" y1="776.75" x2="445.2" y2="776.75" stroke="#000" stroke-width="1.6"/>
<text x="316.4" y="792.5" font-size="12" text-anchor="middle" font-weight="normal">0.05</text>
<text x="413" y="792.5" font-size="12" text-anchor="middle" font-weight="normal">0.5</text>
<text x="467" y="792.5" font-size="12" text-anchor="start" font-weight="normal">TF (pM)</text>
<circle cx="284.4" cy="673.3" r="2.9" fill="#1f4383"/>
<circle cx="284.4" cy="690.2" r="2.9" fill="#1f4383"/>
<circle cx="284.4" cy="697.2" r="2.9" fill="#1f4383"/>
<circle cx="276.6" cy="702.5" r="2.9" fill="#1f4383"/>
<circle cx="292" cy="701.9" r="2.9" fill="#1f4383"/>
<circle cx="284.4" cy="705.4" r="2.9" fill="#1f4383"/>
<circle cx="284.4" cy="721.8" r="2.9" fill="#1f4383"/>
<circle cx="280.5" cy="728.8" r="2.9" fill="#1f4383"/>
<circle cx="288.2" cy="728.5" r="2.9" fill="#1f4383"/>
<line x1="284.4" y1="691.3" x2="284.4" y2="719.6" stroke="#000" stroke-width="1.6"/>
<line x1="278.1" y1="691.3" x2="290.7" y2="691.3" stroke="#000" stroke-width="1.6"/>
<line x1="278.1" y1="719.6" x2="290.7" y2="719.6" stroke="#000" stroke-width="1.6"/>
<line x1="273.25" y1="705.4" x2="295.55" y2="705.4" stroke="#000" stroke-width="1.6"/>
<circle cx="316.5" cy="671.7" r="3.5" fill="#5fa830"/>
<path d="M316.4 669.7A2.0 2.0 0 0 1 316.4 673.7Z" fill="#fff"/>
<circle cx="308.8" cy="693.5" r="3.5" fill="#5fa830"/>
<path d="M308.7 691.5A2.0 2.0 0 0 1 308.7 695.5Z" fill="#fff"/>
<circle cx="324.4" cy="691.8" r="3.5" fill="#5fa830"/>
<path d="M324.3 689.8A2.0 2.0 0 0 1 324.3 693.8Z" fill="#fff"/>
<circle cx="324.4" cy="699.6" r="3.5" fill="#5fa830"/>
<path d="M324.3 697.6A2.0 2.0 0 0 1 324.3 701.6Z" fill="#fff"/>
<circle cx="324.4" cy="706.3" r="3.5" fill="#5fa830"/>
<path d="M324.3 704.3A2.0 2.0 0 0 1 324.3 708.3Z" fill="#fff"/>
<circle cx="308.8" cy="711.5" r="3.5" fill="#5fa830"/>
<path d="M308.7 709.5A2.0 2.0 0 0 1 308.7 713.5Z" fill="#fff"/>
<circle cx="324.4" cy="713.2" r="3.5" fill="#5fa830"/>
<path d="M324.3 711.2A2.0 2.0 0 0 1 324.3 715.2Z" fill="#fff"/>
<circle cx="316.5" cy="728.8" r="3.5" fill="#5fa830"/>
<path d="M316.4 726.8A2.0 2.0 0 0 1 316.4 730.8Z" fill="#fff"/>
<circle cx="324.4" cy="736.7" r="3.5" fill="#5fa830"/>
<path d="M324.3 734.7A2.0 2.0 0 0 1 324.3 738.7Z" fill="#fff"/>
<circle cx="308.8" cy="740.2" r="3.5" fill="#5fa830"/>
<path d="M308.7 738.2A2.0 2.0 0 0 1 308.7 742.2Z" fill="#fff"/>
<line x1="316.6" y1="694" x2="316.6" y2="725.5" stroke="#000" stroke-width="1.6"/>
<line x1="310.7" y1="694" x2="322.5" y2="694" stroke="#000" stroke-width="1.6"/>
<line x1="310.7" y1="725.5" x2="322.5" y2="725.5" stroke="#000" stroke-width="1.6"/>
<line x1="305.55" y1="709.7" x2="327.65" y2="709.7" stroke="#000" stroke-width="1.6"/>
<circle cx="344.4" cy="709.4" r="2.8" fill="none" stroke="#b80a35" stroke-width="1.3"/>
<circle cx="352.4" cy="708.2" r="2.8" fill="none" stroke="#b80a35" stroke-width="1.3"/>
<circle cx="356.4" cy="718" r="2.8" fill="none" stroke="#b80a35" stroke-width="1.3"/>
<circle cx="340.5" cy="724.8" r="2.8" fill="none" stroke="#b80a35" stroke-width="1.3"/>
<circle cx="348.8" cy="724.9" r="2.8" fill="none" stroke="#b80a35" stroke-width="1.3"/>
<circle cx="356.4" cy="729.7" r="2.8" fill="none" stroke="#b80a35" stroke-width="1.3"/>
<circle cx="340.5" cy="733.3" r="2.8" fill="none" stroke="#b80a35" stroke-width="1.3"/>
<line x1="348.6" y1="712.2" x2="348.6" y2="730.3" stroke="#000" stroke-width="1.6"/>
<line x1="342.7" y1="712.2" x2="354.5" y2="712.2" stroke="#000" stroke-width="1.6"/>
<line x1="342.7" y1="730.3" x2="354.5" y2="730.3" stroke="#000" stroke-width="1.6"/>
<line x1="337.65" y1="721.4" x2="359.55" y2="721.4" stroke="#000" stroke-width="1.6"/>
<circle cx="380.7" cy="653.4" r="2.9" fill="#1f4383"/>
<circle cx="384.5" cy="662" r="2.9" fill="#1f4383"/>
<circle cx="380.7" cy="666.4" r="2.9" fill="#1f4383"/>
<circle cx="388.5" cy="669.2" r="2.9" fill="#1f4383"/>
<circle cx="376.7" cy="672.1" r="2.9" fill="#1f4383"/>
<circle cx="384.5" cy="671.5" r="2.9" fill="#1f4383"/>
<circle cx="372.9" cy="675.6" r="2.9" fill="#1f4383"/>
<circle cx="380.7" cy="676.2" r="2.9" fill="#1f4383"/>
<circle cx="388.5" cy="677.3" r="2.9" fill="#1f4383"/>
<line x1="380.7" y1="663.8" x2="380.7" y2="675" stroke="#000" stroke-width="1.6"/>
<line x1="374.8" y1="663.8" x2="386.6" y2="663.8" stroke="#000" stroke-width="1.6"/>
<line x1="374.8" y1="675" x2="386.6" y2="675" stroke="#000" stroke-width="1.6"/>
<line x1="369.5" y1="669.9" x2="391.9" y2="669.9" stroke="#000" stroke-width="1.6"/>
<circle cx="410.4" cy="658.1" r="3.5" fill="#5fa830"/>
<path d="M410.3 656.1A2.0 2.0 0 0 1 410.3 660.1Z" fill="#fff"/>
<circle cx="405.2" cy="662.4" r="3.5" fill="#5fa830"/>
<path d="M405.1 660.4A2.0 2.0 0 0 1 405.1 664.4Z" fill="#fff"/>
<circle cx="410.4" cy="665" r="3.5" fill="#5fa830"/>
<path d="M410.3 663A2.0 2.0 0 0 1 410.3 667Z" fill="#fff"/>
<circle cx="415.9" cy="666.2" r="3.5" fill="#5fa830"/>
<path d="M415.8 664.2A2.0 2.0 0 0 1 415.8 668.2Z" fill="#fff"/>
<circle cx="421.1" cy="669.6" r="3.5" fill="#5fa830"/>
<path d="M421 667.6A2.0 2.0 0 0 1 421 671.6Z" fill="#fff"/>
<circle cx="405.2" cy="670.5" r="3.5" fill="#5fa830"/>
<path d="M405.1 668.5A2.0 2.0 0 0 1 405.1 672.5Z" fill="#fff"/>
<circle cx="410.1" cy="673.1" r="3.5" fill="#5fa830"/>
<path d="M410 671.1A2.0 2.0 0 0 1 410 675.1Z" fill="#fff"/>
<circle cx="415.9" cy="671.9" r="3.5" fill="#5fa830"/>
<path d="M415.8 669.9A2.0 2.0 0 0 1 415.8 673.9Z" fill="#fff"/>
<circle cx="413" cy="689.2" r="3.5" fill="#5fa830"/>
<path d="M412.9 687.2A2.0 2.0 0 0 1 412.9 691.2Z" fill="#fff"/>
<circle cx="412.9" cy="715.6" r="3.5" fill="#5fa830"/>
<path d="M412.8 713.6A2.0 2.0 0 0 1 412.8 717.6Z" fill="#fff"/>
<line x1="412.9" y1="662.4" x2="412.9" y2="686.6" stroke="#000" stroke-width="1.6"/>
<line x1="406.95" y1="662.4" x2="418.85" y2="662.4" stroke="#000" stroke-width="1.6"/>
<line x1="406.95" y1="686.6" x2="418.85" y2="686.6" stroke="#000" stroke-width="1.6"/>
<line x1="402" y1="674.7" x2="423.8" y2="674.7" stroke="#000" stroke-width="1.6"/>
<circle cx="445" cy="665.4" r="2.8" fill="none" stroke="#b80a35" stroke-width="1.3"/>
<circle cx="437.3" cy="676.2" r="2.8" fill="none" stroke="#b80a35" stroke-width="1.3"/>
<circle cx="444.6" cy="675.8" r="2.8" fill="none" stroke="#b80a35" stroke-width="1.3"/>
<circle cx="452.7" cy="678.8" r="2.8" fill="none" stroke="#b80a35" stroke-width="1.3"/>
<circle cx="444.6" cy="683.1" r="2.8" fill="none" stroke="#b80a35" stroke-width="1.3"/>
<circle cx="452.7" cy="686.2" r="2.8" fill="none" stroke="#b80a35" stroke-width="1.3"/>
<circle cx="437.3" cy="692.7" r="2.8" fill="none" stroke="#b80a35" stroke-width="1.3"/>
<line x1="445" y1="671.5" x2="445" y2="688.1" stroke="#000" stroke-width="1.6"/>
<line x1="439.2" y1="671.5" x2="450.8" y2="671.5" stroke="#000" stroke-width="1.6"/>
<line x1="439.2" y1="688.1" x2="450.8" y2="688.1" stroke="#000" stroke-width="1.6"/>
<line x1="433.8" y1="680" x2="456.2" y2="680" stroke="#000" stroke-width="1.6"/>
<text x="0" y="0" font-size="15.0" textLength="18.27" lengthAdjust="spacingAndGlyphs" stroke="#000" stroke-width="0.3" transform="translate(23.9,972.67) rotate(-90)">ETP</text>
<text x="0" y="0" font-size="15.0" textLength="43.55" lengthAdjust="spacingAndGlyphs" stroke="#000" stroke-width="0.3" transform="translate(23.9,950.83) rotate(-90)">(nM-min)</text>
<text x="10.7" y="835.6" font-size="18.3" text-anchor="start" font-weight="bold">F</text>
<line x1="71.5" y1="845.6" x2="71.5" y2="1035.4" stroke="#000" stroke-width="1.6"/>
<line x1="66.9" y1="1034.6" x2="71.5" y2="1034.6" stroke="#000" stroke-width="1.6"/>
<text x="61.2" y="1039.1" font-size="12.5" text-anchor="end" font-weight="normal">0</text>
<line x1="66.9" y1="997.64" x2="71.5" y2="997.64" stroke="#000" stroke-width="1.6"/>
<text x="61.2" y="1002.14" font-size="12.5" text-anchor="end" font-weight="normal">200</text>
<line x1="66.9" y1="960.68" x2="71.5" y2="960.68" stroke="#000" stroke-width="1.6"/>
<text x="61.2" y="965.18" font-size="12.5" text-anchor="end" font-weight="normal">400</text>
<line x1="66.9" y1="923.72" x2="71.5" y2="923.72" stroke="#000" stroke-width="1.6"/>
<text x="61.2" y="928.22" font-size="12.5" text-anchor="end" font-weight="normal">600</text>
<line x1="66.9" y1="886.76" x2="71.5" y2="886.76" stroke="#000" stroke-width="1.6"/>
<text x="61.2" y="891.26" font-size="12.5" text-anchor="end" font-weight="normal">800</text>
<line x1="66.9" y1="849.8" x2="71.5" y2="849.8" stroke="#000" stroke-width="1.6"/>
<text x="61.2" y="854.3" font-size="12.5" text-anchor="end" font-weight="normal">1000</text>
<line x1="70.7" y1="1034.6" x2="170.9" y2="1034.6" stroke="#000" stroke-width="1.6"/>
<line x1="88.3" y1="1034.6" x2="88.3" y2="1039.1" stroke="#000" stroke-width="1.6"/>
<line x1="121.5" y1="1034.6" x2="121.5" y2="1039.1" stroke="#000" stroke-width="1.6"/>
<line x1="154.8" y1="1034.6" x2="154.8" y2="1039.1" stroke="#000" stroke-width="1.6"/>
<line x1="88.3" y1="1049.1" x2="154.8" y2="1049.1" stroke="#000" stroke-width="1.6"/>
<text x="121.5" y="1064.8" font-size="12" text-anchor="middle" font-weight="normal">Silica</text>
<line x1="83.1" y1="862.5" x2="159.8" y2="862.5" stroke="#000" stroke-width="1.6"/>
<polygon points="119.3,854.5 119.88,855.9 121.39,856.02 120.24,857.01 120.59,858.48 119.3,857.69 118.01,858.48 118.36,857.01 117.21,856.02 118.72,855.9" fill="#000"/>
<polygon points="123.7,854.5 124.28,855.9 125.79,856.02 124.64,857.01 124.99,858.48 123.7,857.69 122.41,858.48 122.76,857.01 121.61,856.02 123.12,855.9" fill="#000"/>
<circle cx="80.1" cy="892.3" r="2.9" fill="#1f4383"/>
<circle cx="96.4" cy="892.3" r="2.9" fill="#1f4383"/>
<circle cx="88" cy="903.1" r="2.9" fill="#1f4383"/>
<circle cx="88" cy="916" r="2.9" fill="#1f4383"/>
<circle cx="88" cy="923.1" r="2.9" fill="#1f4383"/>
<circle cx="113.3" cy="911.9" r="3.5" fill="#5fa830"/>
<path d="M113.2 909.9A2.0 2.0 0 0 1 113.2 913.9Z" fill="#fff"/>
<circle cx="129.8" cy="911.9" r="3.5" fill="#5fa830"/>
<path d="M129.7 909.9A2.0 2.0 0 0 1 129.7 913.9Z" fill="#fff"/>
<circle cx="121.6" cy="919.8" r="3.5" fill="#5fa830"/>
<path d="M121.5 917.8A2.0 2.0 0 0 1 121.5 921.8Z" fill="#fff"/>
<circle cx="121.6" cy="945.6" r="3.5" fill="#5fa830"/>
<path d="M121.5 943.6A2.0 2.0 0 0 1 121.5 947.6Z" fill="#fff"/>
<circle cx="154.8" cy="982.7" r="2.8" fill="none" stroke="#b80a35" stroke-width="1.3"/>
<circle cx="154.8" cy="991.8" r="2.8" fill="none" stroke="#b80a35" stroke-width="1.3"/>
<circle cx="163.1" cy="992.7" r="2.8" fill="none" stroke="#b80a35" stroke-width="1.3"/>
<circle cx="146.4" cy="997.3" r="2.8" fill="none" stroke="#b80a35" stroke-width="1.3"/>
<line x1="88.2" y1="888.4" x2="88.2" y2="922.5" stroke="#000" stroke-width="1.6"/>
<line x1="82.6" y1="888.4" x2="93.8" y2="888.4" stroke="#000" stroke-width="1.6"/>
<line x1="82.6" y1="922.5" x2="93.8" y2="922.5" stroke="#000" stroke-width="1.6"/>
<line x1="77.9" y1="905.6" x2="98.5" y2="905.6" stroke="#000" stroke-width="1.6"/>
<line x1="121.6" y1="896.5" x2="121.6" y2="948.1" stroke="#000" stroke-width="1.6"/>
<line x1="116.1" y1="896.5" x2="127.1" y2="896.5" stroke="#000" stroke-width="1.6"/>
<line x1="116.1" y1="948.1" x2="127.1" y2="948.1" stroke="#000" stroke-width="1.6"/>
<line x1="111.2" y1="922.5" x2="132" y2="922.5" stroke="#000" stroke-width="1.6"/>
<line x1="154.8" y1="980.9" x2="154.8" y2="1000.8" stroke="#000" stroke-width="1.6"/>
<line x1="149.2" y1="980.9" x2="160.4" y2="980.9" stroke="#000" stroke-width="1.6"/>
<line x1="149.2" y1="1000.8" x2="160.4" y2="1000.8" stroke="#000" stroke-width="1.6"/>
<line x1="144.9" y1="991" x2="164.7" y2="991" stroke="#000" stroke-width="1.6"/>
<text x="209.3" y="836" font-size="18.3" text-anchor="start" font-weight="bold">G</text>
<line x1="262.5" y1="842.7" x2="262.5" y2="1035.6" stroke="#000" stroke-width="1.6"/>
<line x1="257.9" y1="1034.8" x2="262.5" y2="1034.8" stroke="#000" stroke-width="1.6"/>
<text x="252.4" y="1039.3" font-size="12.5" text-anchor="end" font-weight="normal">0</text>
<line x1="257.9" y1="987.72" x2="262.5" y2="987.72" stroke="#000" stroke-width="1.6"/>
<text x="252.4" y="992.22" font-size="12.5" text-anchor="end" font-weight="normal">200</text>
<line x1="257.9" y1="940.64" x2="262.5" y2="940.64" stroke="#000" stroke-width="1.6"/>
<text x="252.4" y="945.14" font-size="12.5" text-anchor="end" font-weight="normal">400</text>
<line x1="257.9" y1="893.56" x2="262.5" y2="893.56" stroke="#000" stroke-width="1.6"/>
<text x="252.4" y="898.06" font-size="12.5" text-anchor="end" font-weight="normal">600</text>
<line x1="257.9" y1="846.48" x2="262.5" y2="846.48" stroke="#000" stroke-width="1.6"/>
<text x="252.4" y="850.98" font-size="12.5" text-anchor="end" font-weight="normal">800</text>
<text x="0" y="0" font-size="15.0" textLength="18.27" lengthAdjust="spacingAndGlyphs" stroke="#000" stroke-width="0.3" transform="translate(222.9,971.47) rotate(-90)">ETP</text>
<text x="0" y="0" font-size="15.0" textLength="43.55" lengthAdjust="spacingAndGlyphs" stroke="#000" stroke-width="0.3" transform="translate(222.9,949.63) rotate(-90)">(nM-min)</text>
<line x1="261.7" y1="1034.8" x2="466.6" y2="1034.8" stroke="#000" stroke-width="1.6"/>
<line x1="279.5" y1="1034.8" x2="279.5" y2="1039.3" stroke="#000" stroke-width="1.6"/>
<line x1="313.7" y1="1034.8" x2="313.7" y2="1039.3" stroke="#000" stroke-width="1.6"/>
<line x1="347.5" y1="1034.8" x2="347.5" y2="1039.3" stroke="#000" stroke-width="1.6"/>
<line x1="382" y1="1034.8" x2="382" y2="1039.3" stroke="#000" stroke-width="1.6"/>
<line x1="415.6" y1="1034.8" x2="415.6" y2="1039.3" stroke="#000" stroke-width="1.6"/>
<line x1="449.3" y1="1034.8" x2="449.3" y2="1039.3" stroke="#000" stroke-width="1.6"/>
<line x1="279.5" y1="1049.2" x2="347.5" y2="1049.2" stroke="#000" stroke-width="1.6"/>
<line x1="382" y1="1049.2" x2="449.3" y2="1049.2" stroke="#000" stroke-width="1.6"/>
<text x="313.7" y="1065" font-size="12" text-anchor="middle" font-weight="normal">0.05</text>
<text x="415.6" y="1065" font-size="12" text-anchor="middle" font-weight="normal">0.5</text>
<text x="467" y="1065" font-size="12" text-anchor="start" font-weight="normal">TF (pM)</text>
<circle cx="279.7" cy="954.4" r="2.9" fill="#1f4383"/>
<circle cx="279.7" cy="965.2" r="2.9" fill="#1f4383"/>
<circle cx="271.5" cy="973.8" r="2.9" fill="#1f4383"/>
<circle cx="287.9" cy="973.8" r="2.9" fill="#1f4383"/>
<circle cx="279.7" cy="985.4" r="2.9" fill="#1f4383"/>
<line x1="279.6" y1="958.9" x2="279.6" y2="982" stroke="#000" stroke-width="1.6"/>
<line x1="273.5" y1="958.9" x2="285.7" y2="958.9" stroke="#000" stroke-width="1.6"/>
<line x1="273.5" y1="982" x2="285.7" y2="982" stroke="#000" stroke-width="1.6"/>
<line x1="268.4" y1="970.6" x2="290.8" y2="970.6" stroke="#000" stroke-width="1.6"/>
<circle cx="313.6" cy="975.6" r="3.5" fill="#5fa830"/>
<path d="M313.5 973.6A2.0 2.0 0 0 1 313.5 977.6Z" fill="#fff"/>
<circle cx="305.5" cy="991.2" r="3.5" fill="#5fa830"/>
<path d="M305.4 989.2A2.0 2.0 0 0 1 305.4 993.2Z" fill="#fff"/>
<circle cx="322.5" cy="993.8" r="3.5" fill="#5fa830"/>
<path d="M322.4 991.8A2.0 2.0 0 0 1 322.4 995.8Z" fill="#fff"/>
<circle cx="313.6" cy="1006.7" r="3.5" fill="#5fa830"/>
<path d="M313.5 1004.7A2.0 2.0 0 0 1 313.5 1008.7Z" fill="#fff"/>
<line x1="313.7" y1="979.4" x2="313.7" y2="1004.1" stroke="#000" stroke-width="1.6"/>
<line x1="307.8" y1="979.4" x2="319.6" y2="979.4" stroke="#000" stroke-width="1.6"/>
<line x1="307.8" y1="1004.1" x2="319.6" y2="1004.1" stroke="#000" stroke-width="1.6"/>
<line x1="302.55" y1="991.4" x2="324.85" y2="991.4" stroke="#000" stroke-width="1.6"/>
<circle cx="347.5" cy="966" r="2.8" fill="none" stroke="#b80a35" stroke-width="1.3"/>
<circle cx="347.5" cy="987.1" r="2.8" fill="none" stroke="#b80a35" stroke-width="1.3"/>
<circle cx="339" cy="989.4" r="2.8" fill="none" stroke="#b80a35" stroke-width="1.3"/>
<circle cx="356" cy="989.4" r="2.8" fill="none" stroke="#b80a35" stroke-width="1.3"/>
<line x1="347.6" y1="971.5" x2="347.6" y2="994.4" stroke="#000" stroke-width="1.6"/>
<line x1="341.65" y1="971.5" x2="353.55" y2="971.5" stroke="#000" stroke-width="1.6"/>
<line x1="341.65" y1="994.4" x2="353.55" y2="994.4" stroke="#000" stroke-width="1.6"/>
<line x1="336.8" y1="983.1" x2="358.4" y2="983.1" stroke="#000" stroke-width="1.6"/>
<circle cx="381.7" cy="908.1" r="2.9" fill="#1f4383"/>
<circle cx="390" cy="916.7" r="2.9" fill="#1f4383"/>
<circle cx="373.3" cy="921.5" r="2.9" fill="#1f4383"/>
<circle cx="390" cy="930.2" r="2.9" fill="#1f4383"/>
<circle cx="373.3" cy="935.8" r="2.9" fill="#1f4383"/>
<line x1="381.6" y1="911.7" x2="381.6" y2="933.1" stroke="#000" stroke-width="1.6"/>
<line x1="375.55" y1="911.7" x2="387.65" y2="911.7" stroke="#000" stroke-width="1.6"/>
<line x1="375.55" y1="933.1" x2="387.65" y2="933.1" stroke="#000" stroke-width="1.6"/>
<line x1="370.35" y1="922.3" x2="392.85" y2="922.3" stroke="#000" stroke-width="1.6"/>
<circle cx="415.6" cy="922.3" r="3.5" fill="#5fa830"/>
<path d="M415.5 920.3A2.0 2.0 0 0 1 415.5 924.3Z" fill="#fff"/>
<circle cx="415.6" cy="930.2" r="3.5" fill="#5fa830"/>
<path d="M415.5 928.2A2.0 2.0 0 0 1 415.5 932.2Z" fill="#fff"/>
<circle cx="415.6" cy="958.8" r="3.5" fill="#5fa830"/>
<path d="M415.5 956.8A2.0 2.0 0 0 1 415.5 960.8Z" fill="#fff"/>
<circle cx="415.6" cy="973.5" r="3.5" fill="#5fa830"/>
<path d="M415.5 971.5A2.0 2.0 0 0 1 415.5 975.5Z" fill="#fff"/>
<line x1="415.6" y1="922.9" x2="415.6" y2="970" stroke="#000" stroke-width="1.6"/>
<line x1="409.55" y1="922.9" x2="421.65" y2="922.9" stroke="#000" stroke-width="1.6"/>
<line x1="409.55" y1="970" x2="421.65" y2="970" stroke="#000" stroke-width="1.6"/>
<line x1="404.55" y1="946.5" x2="426.65" y2="946.5" stroke="#000" stroke-width="1.6"/>
<circle cx="449.4" cy="857" r="2.8" fill="none" stroke="#b80a35" stroke-width="1.3"/>
<circle cx="441.3" cy="932.9" r="2.8" fill="none" stroke="#b80a35" stroke-width="1.3"/>
<circle cx="457.3" cy="937.9" r="2.8" fill="none" stroke="#b80a35" stroke-width="1.3"/>
<circle cx="449.6" cy="953.7" r="2.8" fill="none" stroke="#b80a35" stroke-width="1.3"/>
<line x1="449.5" y1="876.8" x2="449.5" y2="963.8" stroke="#000" stroke-width="1.6"/>
<line x1="443.2" y1="876.8" x2="455.8" y2="876.8" stroke="#000" stroke-width="1.6"/>
<line x1="443.2" y1="963.8" x2="455.8" y2="963.8" stroke="#000" stroke-width="1.6"/>
<line x1="438.35" y1="920.4" x2="460.65" y2="920.4" stroke="#000" stroke-width="1.6"/>
</svg>
</body></html>
